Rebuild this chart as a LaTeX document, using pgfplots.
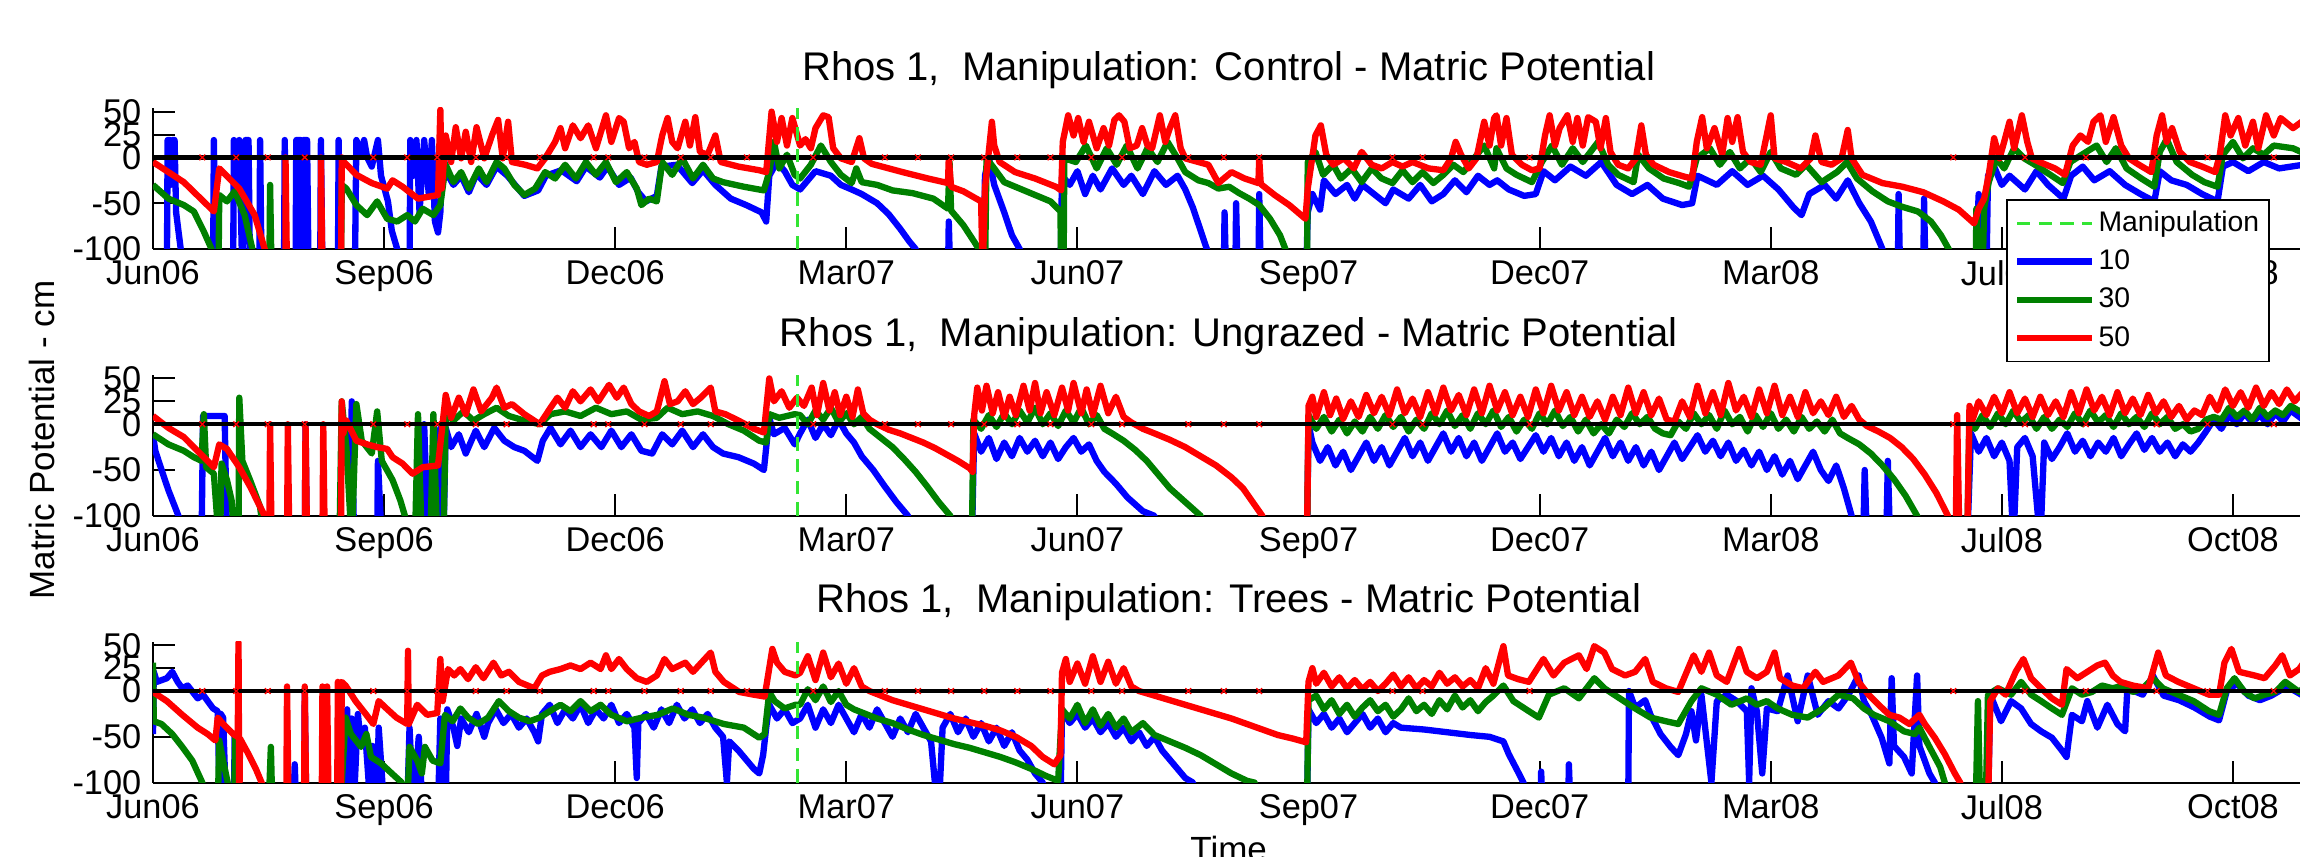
\documentclass[border=0pt]{standalone}
\usepackage{fontspec}
\setmainfont{Liberation Sans}
\usepackage{pgfplots}
\pgfplotsset{compat=1.18}
\definecolor{mblue}{rgb}{0,0,1}
\definecolor{mgreen}{rgb}{0,0.5,0}
\definecolor{mred}{rgb}{1,0,0}
\definecolor{mlime}{rgb}{0.2,0.9,0.2}
\pgfplotsset{
  panel/.style={
    scale only axis, width=645pt, height=42.3pt,
    xmin=0, xmax=27.91, ymin=-100, ymax=54,
    axis lines=left, axis line style={-, line width=0.6pt},
    every outer x axis line/.append style={-},
    every outer y axis line/.append style={-},
    tick align=inside, major tick length=6.6pt,
    tick style={black, line width=0.6pt},
    xtick={0,3,...,27},
    xticklabels={Jun06,Sep06,Dec06,Mar07,Jun07,Sep07,Dec07,Mar08,Jul08,Oct08},
    ytick={-100,-50,0,25,50},
    yticklabels={-100,-50,0,25,50},
    ticklabel style={font=\fontsize{10.3}{12}\selectfont},
    anchor=south west, clip=true,
  },
  d10/.style={mblue, line width=1.9pt, line join=round},
  d30/.style={mgreen, line width=1.9pt, line join=round},
  d50/.style={mred, line width=1.9pt, line join=round},
  zeroline/.style={black, line width=1.3pt},
  manip/.style={mlime, line width=0.9pt, dash pattern=on 4pt off 2.5pt},
  xmk/.style={only marks, mark=x, mark size=1.2pt, mred, mark options={line width=0.4pt}},
}
\newcommand{\zerostuff}{%
  \addplot[zeroline, forget plot] coordinates {(0,0) (27.91,0)};
  \addplot[xmk, forget plot] coordinates {(0.64,0) (1.08,0) (1.49,0) (1.97,0) (2.86,0) (3.30,0) (3.69,0) (4.19,0) (4.59,0) (5.02,0) (5.72,0) (5.91,0) (6.38,0) (6.85,0) (7.24,0) (7.71,0) (8.57,0) (9.50,0) (9.93,0) (10.36,0) (10.79,0) (11.22,0) (11.65,0) (12.18,0) (12.58,0) (13.44,0) (13.90,0) (14.36,0) (16.09,0) (16.48,0) (17.87,0) (23.37,0) (24.30,0) (25.09,0) (26.01,0) (26.67,0) (27.53,0)};
  \addplot[manip, forget plot] coordinates {(8.36,-100) (8.36,54)};
}
\begin{document}
\begin{tikzpicture}
%================ PANEL 1: Control
\begin{axis}[panel, at={(45.9pt,182.1pt)},
  legend cell align=left,
  legend image code/.code={\draw[#1] (0pt,0pt) -- (22.5pt,0pt);},
  legend style={at={(axis cs:24.06,-45.7)}, anchor=north west,
    font=\fontsize{8.5}{9}\selectfont, draw=black, line width=0.5pt, fill=white,
    inner xsep=2pt, inner ysep=2pt, row sep=1.6pt,
    nodes={inner sep=1pt, text height=6.3pt, text depth=1.6pt}},
  legend entries={Manipulation,10,30,50}]
\addlegendimage{manip}
\addplot[d10] coordinates {(0.10,-130) (0.18,-130) (0.19,19) (0.22,19) (0.23,-30) (0.25,19) (0.28,19) (0.30,-60) (0.36,-100) (0.40,-130)
(0.78,-130) (0.79,19) (0.81,-130) (1.04,-130) (1.05,19) (1.08,-40) (1.12,19) (1.16,-130) (1.20,19) (1.24,19) (1.26,-130)
(1.38,-130) (1.39,19) (1.41,-130) (1.70,-130) (1.71,19) (1.73,-130) (1.85,-130) (1.86,19) (1.92,19) (1.93,-130) (1.95,19) (2.0,19) (2.02,-130)
(2.17,-130) (2.18,19) (2.20,-130) (2.40,-130) (2.41,19) (2.43,-130) (2.62,-130) (2.64,19) (2.70,5) (2.74,19) (2.78,0) (2.84,-10) (2.92,19) (2.96,-20) (3.05,-48) (3.10,-80) (3.17,-100) (3.20,-130)
(3.33,-130) (3.34,19) (3.38,-20) (3.42,19) (3.46,-60) (3.52,19) (3.58,-40) (3.62,19) (3.66,-70) (3.70,-82) (3.73,-60) (3.76,10)
(3.80,-15) (3.9,-30) (4.0,-20) (4.1,-38) (4.2,-18) (4.33,-30) (4.46,-10) (4.6,-20) (4.82,-42) (5.0,-36) (5.1,-20) (5.3,-14) (5.5,-26) (5.62,-10) (5.8,-22) (5.9,-10) (6.05,-30) (6.2,-22) (6.3,-38) (6.4,-48) (6.54,-42) (6.6,-10) (6.8,-8) (7.0,-28) (7.14,-14) (7.3,-30) (7.5,-45) (7.7,-52) (7.9,-60) (7.96,-70) (8.0,-20) (8.1,-5) (8.2,-15) (8.3,-30)
(8.4,-35) (8.6,-15) (8.8,-20) (8.93,-30) (9.07,-35) (9.2,-40) (9.4,-50) (9.55,-62) (9.7,-78) (9.82,-92) (9.9,-100) (9.95,-130)
(10.32,-130) (10.33,-70) (10.35,-130) (10.78,-130) (10.80,-20) (10.85,0) (10.92,-30) (11.05,-60) (11.15,-85) (11.25,-100) (11.3,-130)
(11.78,-130) (11.80,-20) (11.9,-30) (12.0,-15) (12.1,-40) (12.2,-20) (12.3,-35) (12.45,-12) (12.6,-30) (12.7,-20) (12.85,-40) (13.0,-15) (13.15,-30) (13.3,-20) (13.4,-35) (13.5,-55) (13.6,-80) (13.68,-100) (13.7,-130)
(13.9,-130) (13.91,-60) (13.93,-130) (14.05,-130) (14.06,-50) (14.08,-130) (14.35,-130) (14.36,-40) (14.38,-130)
(14.97,-130) (14.99,-60) (15.05,-40) (15.15,-57) (15.2,-25) (15.35,-40) (15.5,-30) (15.6,-45) (15.7,-30) (15.85,-40) (16.0,-50) (16.1,-35) (16.3,-45) (16.45,-30) (16.6,-48) (16.75,-40) (16.9,-25) (17.05,-38) (17.2,-20) (17.35,-30)
(17.45,-25) (17.6,-35) (17.8,-42) (17.95,-40) (18.05,-15) (18.2,-25) (18.4,-10) (18.6,-20) (18.8,-5) (19.0,-30) (19.2,-40) (19.4,-30) (19.6,-45) (19.85,-52) (19.98,-50) (20.05,-20) (20.3,-30) (20.5,-15) (20.7,-30) (20.9,-20) (21.1,-35) (21.3,-55) (21.4,-63) (21.5,-40) (21.7,-30) (21.85,-45) (22.0,-25) (22.15,-50) (22.3,-70) (22.4,-90) (22.45,-100) (22.5,-130)
(22.65,-130) (22.66,-40) (22.68,-130) (22.98,-130) (22.99,-45) (23.01,-130)
(23.65,-130) (23.70,-40) (23.72,-130) (23.80,-130) (23.82,-20) (23.9,-10) (24.0,-30) (24.1,-20) (24.3,-35) (24.45,-15) (24.6,-30) (24.8,-45) (24.9,-20) (25.05,-10) (25.2,-25) (25.4,-15) (25.6,-30) (25.8,-40) (25.98,-48) (26.05,-15) (26.2,-25) (26.4,-30) (26.6,-40) (26.8,-48) (26.87,-10) (27.0,-5) (27.2,-15) (27.4,-5) (27.6,-12) (27.91,-8)};
\addplot[d30] coordinates {(0,-30) (0.2,-45) (0.40,-52) (0.53,-59) (0.66,-81) (0.76,-100) (0.78,-130) (0.85,-130) (0.86,-41) (0.96,-48) (1.06,-37) (1.19,-63) (1.29,-100) (1.32,-130) (1.51,-130) (1.52,-30) (1.54,-130) (2.44,-130) (2.45,-30) (2.51,-34) (2.64,-52) (2.78,-63) (2.91,-48) (3.04,-67) (3.17,-70) (3.30,-63) (3.40,-70) (3.50,-56) (3.64,-63) (3.73,-52) (3.80,-8) (3.90,-27) (4.0,-16) (4.10,-34) (4.23,-12) (4.33,-27) (4.46,-5) (4.56,-12) (4.69,-30) (4.82,-41) (4.96,-34) (5.09,-16) (5.22,-23) (5.35,-8) (5.49,-23) (5.62,-5) (5.75,-19) (5.88,-5) (6.01,-27) (6.15,-16) (6.28,-34) (6.34,-52) (6.44,-45) (6.54,-48) (6.61,-5) (6.74,-19) (6.87,-1) (7.01,-23) (7.14,-8) (7.27,-23) (7.40,-27) (7.67,-32) (7.93,-36) (8.0,-16) (8.06,17) (8.13,-12) (8.23,3) (8.33,-19) (8.40,-23) (8.54,-8) (8.67,13) (8.80,-5) (8.93,-19) (9.07,-28) (9.13,-12) (9.20,-27) (9.40,-30) (9.60,-36) (9.86,-39) (10.13,-45) (10.32,-56) (10.34,-5) (10.36,-58) (10.52,-74) (10.66,-92) (10.72,-100) (10.75,-130) (10.80,-130) (10.82,-1) (10.92,-12) (11.05,-27) (11.25,-34) (11.45,-41) (11.65,-48) (11.78,-59) (11.79,-130) (11.82,-130) (11.83,-1) (11.98,-5) (12.11,13) (12.25,-12) (12.38,10) (12.51,-8) (12.64,13) (12.78,-12) (12.91,10) (13.04,-5) (13.17,17) (13.30,-1) (13.40,-16) (13.57,-25) (13.70,-28) (13.83,-34) (13.97,-32) (14.10,-39) (14.23,-45) (14.36,-52) (14.50,-67) (14.63,-85) (14.70,-100) (14.73,-130) (14.98,-130) (14.99,-5) (15.09,6) (15.19,-19) (15.32,-8) (15.42,-23) (15.56,-12) (15.69,-27) (15.82,-12) (15.95,-23) (16.09,-28) (16.22,-14) (16.35,-27) (16.48,-16) (16.62,-28) (16.75,-19) (16.88,-8) (17.01,-16) (17.15,-1) (17.28,13) (17.41,-12) (17.44,10) (17.57,-12) (17.70,-19) (17.90,-27) (18.03,-5) (18.16,13) (18.29,-8) (18.43,10) (18.56,-5) (18.76,17) (18.89,-8) (19.02,-19) (19.22,-27) (19.28,3) (19.42,-12) (19.61,-23) (19.81,-28) (19.94,-32) (20.04,-1) (20.21,10) (20.34,-8) (20.47,6) (20.60,-12) (20.74,-1) (20.87,-16) (21.0,6) (21.13,-12) (21.33,-19) (21.46,-8) (21.66,-27) (21.86,-16) (21.99,-5) (22.12,-23) (22.32,-37) (22.52,-48) (22.71,-54) (22.91,-59) (23.08,-70) (23.21,-85) (23.31,-100) (23.34,-130) (23.66,-130) (23.67,-56) (23.69,-130) (23.75,-130) (23.77,-56) (23.83,-27) (23.93,-1) (24.03,-12) (24.16,10) (24.29,-1) (24.43,-8) (24.63,-19) (24.79,-28) (24.89,-5) (25.02,2) (25.23,13) (25.36,-5) (25.48,10) (25.62,-12) (25.81,-23) (25.98,-32) (26.05,6) (26.14,20) (26.27,-5) (26.47,-19) (26.63,-27) (26.80,-32) (26.87,3) (27.0,17) (27.13,-1) (27.26,10) (27.40,3) (27.53,13) (27.78,10) (27.91,5)};
\addplot[d50] coordinates {(0,-5) (0.40,-27) (0.79,-59) (0.86,-12) (1.12,-34) (1.32,-63) (1.45,-100) (1.50,-130) (1.72,-130) (1.72,0) (1.74,-130) (2.18,-130) (2.18,0) (2.20,-130) (2.44,-130) (2.45,0) (2.48,-5) (2.64,-19) (2.84,-28) (3.04,-34) (3.11,-25) (3.24,-32) (3.44,-45) (3.57,-43) (3.70,-41) (3.73,52) (3.75,-34) (3.80,24) (3.87,-5) (3.93,33) (4.0,-1) (4.06,28) (4.13,-5) (4.20,33) (4.30,-1) (4.40,24) (4.48,41) (4.54,-1) (4.61,39) (4.66,-5) (4.83,-8) (4.99,-12) (5.09,-1) (5.22,17) (5.29,32) (5.35,10) (5.45,35) (5.55,21) (5.65,35) (5.75,10) (5.88,46) (5.95,17) (6.05,43) (6.11,39) (6.18,10) (6.25,17) (6.31,-5) (6.41,-8) (6.54,-5) (6.61,24) (6.68,43) (6.74,17) (6.81,10) (6.91,39) (6.97,13) (7.04,44) (7.10,6) (7.20,3) (7.30,24) (7.37,-5) (7.60,-10) (7.87,-14) (7.96,-16) (8.03,50) (8.10,17) (8.16,43) (8.23,13) (8.30,43) (8.40,13) (8.47,20) (8.54,10) (8.60,32) (8.70,46) (8.77,44) (8.83,10) (8.93,-1) (9.07,-5) (9.17,21) (9.23,-1) (9.33,-7) (9.73,-16) (10.06,-23) (10.32,-28) (10.33,-1) (10.36,-32) (10.52,-37) (10.75,-48) (10.77,-130) (10.80,-34) (10.89,39) (10.92,13) (10.99,-5) (11.19,-16) (11.45,-23) (11.72,-32) (11.79,-36) (11.81,17) (11.88,46) (11.95,24) (12.01,43) (12.08,17) (12.15,39) (12.25,10) (12.34,32) (12.41,13) (12.48,41) (12.54,46) (12.61,39) (12.68,10) (12.77,13) (12.84,32) (12.91,13) (12.97,10) (13.07,46) (13.14,17) (13.20,32) (13.27,46) (13.34,10) (13.40,-1) (13.57,-5) (13.70,-8) (13.83,-28) (14.0,-16) (14.17,-23) (14.35,-28) (14.36,-1) (14.38,-29) (14.56,-41) (14.75,-52) (14.96,-67) (14.99,-34) (15.09,24) (15.16,35) (15.23,3) (15.32,-8) (15.46,-1) (15.59,-12) (15.69,6) (15.82,-8) (15.95,-12) (16.09,-5) (16.22,-10) (16.35,-5) (16.56,-12) (16.75,-14) (16.85,-1) (16.91,17) (16.98,3) (17.08,-12) (17.18,-1) (17.28,39) (17.35,13) (17.41,43) (17.44,46) (17.50,13) (17.57,43) (17.64,3) (17.77,-8) (17.90,-14) (18.0,-12) (18.07,24) (18.13,46) (18.20,13) (18.26,32) (18.36,46) (18.43,17) (18.49,43) (18.56,13) (18.63,44) (18.73,39) (18.79,10) (18.86,43) (18.92,6) (19.02,-8) (19.15,-12) (19.25,-1) (19.32,35) (19.38,3) (19.48,-8) (19.68,-16) (19.88,-21) (19.98,-23) (20.04,17) (20.11,44) (20.17,10) (20.27,32) (20.37,3) (20.44,43) (20.50,17) (20.57,44) (20.64,6) (20.74,-5) (20.87,-8) (21.0,46) (21.05,-1) (21.20,-5) (21.39,-12) (21.52,-1) (21.58,24) (21.66,-5) (21.79,-8) (21.92,-1) (22.0,30) (22.05,-1) (22.19,-19) (22.45,-28) (22.71,-32) (22.98,-38) (23.24,-48) (23.44,-57) (23.64,-72) (23.70,-56) (23.77,-45) (23.83,-19) (23.90,21) (23.97,-1) (24.03,17) (24.10,39) (24.16,10) (24.26,46) (24.33,17) (24.39,-1) (24.49,-5) (24.69,-12) (24.82,-19) (24.92,13) (25.02,24) (25.12,17) (25.19,39) (25.28,46) (25.35,17) (25.45,44) (25.55,13) (25.65,-1) (25.78,-8) (25.94,-16) (26.01,24) (26.08,46) (26.14,17) (26.21,32) (26.31,6) (26.44,-5) (26.60,-10) (26.77,-16) (26.83,3) (26.90,46) (26.97,24) (27.07,43) (27.16,13) (27.26,39) (27.33,10) (27.43,46) (27.53,24) (27.62,43) (27.78,32) (27.91,40)};
\zerostuff
\end{axis}
%================ PANEL 2: Ungrazed
\begin{axis}[panel, at={(45.9pt,102.06pt)}]
\addplot[d10] coordinates {(0,-11) (0.03,-29) (0.10,-47) (0.2,-72) (0.33,-100) (0.36,-130) (0.63,-130) (0.65,9) (0.93,9) (0.96,-130) (1.97,-130) (1.98,0) (2.0,-130) (2.56,-130) (2.58,25) (2.61,-130) (2.91,-130) (2.92,-40) (2.97,-130) (3.50,-130) (3.52,0) (3.57,-130) (3.72,-130) (3.73,-4) (3.77,-130) (3.80,-4) (3.87,-25) (3.97,-11) (4.06,-32) (4.19,-7) (4.30,-25) (4.43,-4) (4.56,-18) (4.69,-25) (4.82,-29) (4.99,-40) (5.06,-18) (5.16,-4) (5.29,-22) (5.42,-7) (5.55,-25) (5.68,-11) (5.82,-25) (5.95,-7) (6.08,-25) (6.21,-11) (6.34,-29) (6.48,-32) (6.61,-11) (6.74,-22) (6.87,-7) (7.01,-25) (7.14,-11) (7.27,-25) (7.40,-32) (7.60,-36) (7.80,-43) (7.93,-50) (8.0,7) (8.06,-11) (8.20,-4) (8.33,-22)
(8.4,-10) (8.5,5) (8.6,-15) (8.7,0) (8.8,-12) (8.9,5) (9.0,-10) (9.1,-20) (9.2,-35) (9.35,-50) (9.5,-68) (9.65,-85) (9.8,-100) (9.85,-130) (10.63,-130) (10.66,-10) (10.75,-30) (10.85,-15) (10.95,-38) (11.05,-20) (11.15,-35) (11.25,-15) (11.35,-30) (11.45,-18) (11.55,-35) (11.65,-20) (11.75,-38) (11.85,-25) (11.95,-15) (12.05,-30) (12.15,-22) (12.25,-40) (12.35,-52) (12.5,-65) (12.65,-80) (12.85,-95) (13.0,-100) (13.05,-130) (14.98,-130) (15.0,0) (15.05,-20) (15.15,-40) (15.25,-25) (15.35,-45) (15.45,-30) (15.55,-50) (15.65,-35) (15.75,-20) (15.85,-40) (15.95,-25) (16.05,-45) (16.15,-30) (16.25,-15) (16.35,-35) (16.45,-20) (16.55,-40) (16.65,-25) (16.75,-10) (16.85,-30) (16.95,-15) (17.05,-35) (17.15,-20) (17.25,-40) (17.35,-25) (17.45,-10) (17.55,-30) (17.65,-20) (17.75,-38) (17.85,-25) (17.95,-12) (18.05,-30) (18.15,-15) (18.25,-35) (18.35,-20) (18.45,-40) (18.55,-25) (18.65,-45) (18.75,-30) (18.85,-15) (18.95,-35) (19.05,-20) (19.15,-40) (19.25,-25) (19.35,-45) (19.45,-30) (19.55,-50) (19.65,-35) (19.75,-20) (19.85,-38) (19.95,-25) (20.05,-12) (20.15,-30) (20.25,-18) (20.35,-35) (20.45,-20) (20.55,-40) (20.65,-28) (20.75,-45) (20.85,-30) (20.95,-50) (21.05,-35) (21.15,-55) (21.25,-40) (21.35,-60) (21.45,-45) (21.55,-30) (21.65,-50) (21.75,-62) (21.85,-45) (21.95,-70) (22.05,-100) (22.1,-130) (22.2,-130) (22.22,-50) (22.25,-130) (22.5,-130) (22.52,-40) (22.55,-130) (23.55,-130) (23.6,-10) (23.7,-30) (23.8,-15) (23.9,-35) (24.0,-20) (24.1,-40) (24.15,-130) (24.2,-25) (24.3,-15) (24.4,-35) (24.5,-130) (24.55,-20) (24.65,-38) (24.75,-25) (24.85,-10) (24.95,-30) (25.05,-18) (25.15,-35) (25.25,-20) (25.35,-30) (25.45,-15) (25.55,-35) (25.65,-22) (25.75,-10) (25.85,-28) (25.95,-15) (26.05,-30) (26.15,-20) (26.25,-35) (26.35,-22) (26.45,-30) (26.55,-20) (26.65,-8) (26.75,5) (26.85,-5) (26.95,10) (27.05,0) (27.15,12) (27.25,2) (27.35,10) (27.45,0) (27.55,12) (27.65,3) (27.75,15) (27.91,5)};
\addplot[d30] coordinates {(0,-11) (0.2,-22) (0.40,-29) (0.53,-36) (0.63,-40) (0.66,11) (0.69,-47) (0.79,-54) (0.83,-100) (0.85,-130) (0.87,-130) (0.89,-43) (0.96,-61) (1.02,-83) (1.06,-130) (1.11,-130) (1.12,29) (1.16,-40) (1.26,-61) (1.39,-90) (1.45,-130) (2.42,-130) (2.45,25) (2.51,-25) (2.58,-130) (2.64,22) (2.71,-18) (2.84,-32) (2.91,14) (2.97,-40) (3.11,-61) (3.21,-83) (3.27,-100) (3.30,-130) (3.40,-130) (3.44,11) (3.49,-130) (3.60,-130) (3.64,11) (3.69,-130) (3.77,-130) (3.80,11) (3.90,4) (4.03,14) (4.16,4) (4.30,11) (4.46,18) (4.62,9) (4.82,4) (5.02,0) (5.16,11) (5.35,14) (5.55,9) (5.75,18) (5.95,11) (6.15,14) (6.34,5) (6.54,7) (6.68,18) (6.87,11) (7.07,14) (7.27,9) (7.47,0) (7.67,-7) (7.87,-18) (7.96,-20) (8.0,11) (8.13,7) (8.33,11)
(8.4,10) (8.5,0) (8.6,15) (8.7,5) (8.8,18) (8.9,2) (9.0,12) (9.1,0) (9.2,8) (9.3,-5) (9.45,-15) (9.6,-25) (9.75,-38) (9.9,-52) (10.05,-68) (10.2,-85) (10.35,-100) (10.4,-130) (10.63,-130) (10.65,5) (10.75,-5) (10.85,10) (10.95,-3) (11.05,12) (11.15,0) (11.25,15) (11.35,2) (11.45,18) (11.55,0) (11.65,12) (11.75,-2) (11.85,15) (11.95,2) (12.05,18) (12.15,0) (12.25,10) (12.35,-5) (12.45,-10) (12.6,-18) (12.75,-28) (12.9,-40) (13.05,-55) (13.2,-70) (13.4,-85) (13.6,-100) (13.65,-130) (14.98,-130) (15.0,10) (15.1,-5) (15.2,8) (15.3,-8) (15.4,5) (15.5,-10) (15.6,3) (15.7,-8) (15.8,8) (15.9,-5) (16.0,10) (16.1,-3) (16.2,8) (16.3,-8) (16.4,5) (16.5,-5) (16.6,12) (16.7,0) (16.8,15) (16.9,-2) (17.0,10) (17.1,-5) (17.2,12) (17.3,0) (17.4,15) (17.5,-3) (17.6,8) (17.7,-8) (17.8,5) (17.9,-5) (18.0,12) (18.1,0) (18.2,15) (18.3,-2) (18.4,8) (18.5,-8) (18.6,5) (18.7,-10) (18.8,0) (18.9,-10) (19.0,5) (19.1,-3) (19.2,12) (19.3,0) (19.4,8) (19.5,-5) (19.6,-10) (19.7,-12) (19.8,3) (19.9,-5) (20.0,12) (20.1,0) (20.2,10) (20.3,-5) (20.4,15) (20.5,0) (20.6,8) (20.7,-8) (20.8,10) (20.9,-3) (21.0,12) (21.1,-5) (21.2,5) (21.3,-8) (21.4,8) (21.5,-5) (21.6,3) (21.7,-8) (21.8,5) (21.9,-10) (22.0,-15) (22.15,-22) (22.3,-32) (22.45,-45) (22.6,-60) (22.75,-78) (22.9,-100) (22.95,-130) (23.55,-130) (23.58,5) (23.65,-5) (23.75,10) (23.85,-3) (23.95,12) (24.05,0) (24.15,15) (24.25,2) (24.35,10) (24.45,-5) (24.55,8) (24.65,-5) (24.75,5) (24.85,-3) (24.95,12) (25.05,0) (25.15,15) (25.25,2) (25.35,10) (25.45,-3) (25.55,12) (25.65,0) (25.75,8) (25.85,-3) (25.95,12) (26.05,0) (26.15,8) (26.25,-5) (26.35,0) (26.45,-8) (26.55,-5) (26.65,5) (26.75,8) (26.85,5) (26.95,18) (27.05,8) (27.15,15) (27.25,5) (27.35,18) (27.45,8) (27.55,15) (27.65,10) (27.75,20) (27.91,12)};
\addplot[d50] coordinates {(0,9) (0.2,-4) (0.40,-14) (0.66,-36) (0.79,-47) (0.86,-22) (0.96,-27) (1.12,-47) (1.26,-68) (1.39,-90) (1.45,-100) (1.49,-130) (1.51,-130) (1.52,0) (1.54,-130) (1.74,-130) (1.75,0) (1.77,-130) (1.97,-130) (1.98,0) (2.0,-130) (2.20,-130) (2.21,0) (2.23,-130) (2.44,-130) (2.45,25) (2.47,-10) (2.51,4) (2.64,-18) (2.78,-22) (2.91,-25) (3.04,-27) (3.11,-36) (3.24,-43) (3.37,-54) (3.50,-47) (3.70,-45) (3.80,32) (3.87,7) (3.97,29) (4.06,11) (4.16,38) (4.26,14) (4.40,29) (4.46,40) (4.56,18) (4.66,22) (4.82,11) (5.02,0) (5.16,18) (5.25,29) (5.35,18) (5.45,36) (5.55,25) (5.68,38) (5.78,25) (5.92,43) (6.02,29) (6.11,40) (6.21,22) (6.31,14) (6.44,9) (6.54,14) (6.64,47) (6.71,22) (6.81,25) (6.91,36) (7.01,22) (7.11,29) (7.24,40) (7.30,14) (7.43,11) (7.60,4) (7.80,-5) (7.93,-9) (8.0,50) (8.06,25) (8.16,36) (8.26,18) (8.36,29)
(8.45,20) (8.55,40) (8.62,10) (8.7,45) (8.78,15) (8.85,35) (8.92,10) (9.0,30) (9.08,8) (9.15,38) (9.22,12) (9.3,5) (9.4,0) (9.55,-6) (9.7,-10) (9.85,-15) (10.0,-20) (10.15,-26) (10.3,-33) (10.45,-40) (10.6,-48) (10.64,-52) (10.66,10) (10.7,40) (10.76,15) (10.82,42) (10.9,12) (10.97,35) (11.05,8) (11.12,30) (11.2,10) (11.3,42) (11.38,15) (11.45,45) (11.52,12) (11.6,35) (11.7,10) (11.8,40) (11.88,15) (11.95,45) (12.05,12) (12.12,38) (12.2,10) (12.3,42) (12.4,12) (12.5,30) (12.6,8) (12.7,2) (12.85,-5) (13.0,-10) (13.2,-17) (13.4,-25) (13.6,-35) (13.8,-45) (14.0,-58) (14.15,-70) (14.3,-88) (14.4,-100) (14.45,-130) (14.98,-130) (15.0,20) (15.05,30) (15.1,8) (15.2,35) (15.28,10) (15.36,28) (15.45,6) (15.55,25) (15.65,8) (15.75,32) (15.85,12) (15.95,30) (16.05,10) (16.15,38) (16.25,12) (16.35,28) (16.45,8) (16.55,35) (16.65,12) (16.75,40) (16.85,15) (16.95,32) (17.05,10) (17.15,38) (17.25,12) (17.35,42) (17.45,15) (17.55,35) (17.65,10) (17.75,30) (17.85,8) (17.95,38) (18.05,12) (18.15,42) (18.25,15) (18.35,35) (18.45,10) (18.55,30) (18.65,8) (18.75,25) (18.85,5) (18.95,30) (19.05,10) (19.15,40) (19.25,12) (19.35,35) (19.45,10) (19.55,28) (19.65,5) (19.75,3) (19.85,25) (19.95,8) (20.05,42) (20.15,12) (20.25,35) (20.35,10) (20.45,45) (20.55,15) (20.65,30) (20.75,8) (20.85,38) (20.95,12) (21.05,42) (21.15,10) (21.25,30) (21.35,8) (21.45,35) (21.55,12) (21.65,25) (21.75,10) (21.85,30) (21.95,8) (22.05,20) (22.15,5) (22.25,-2) (22.4,-8) (22.55,-15) (22.7,-25) (22.85,-38) (23.0,-55) (23.15,-75) (23.3,-100) (23.35,-130) (23.4,-130) (23.42,10) (23.45,-130) (23.55,-130) (23.58,20) (23.62,5) (23.7,25) (23.8,10) (23.9,30) (24.0,12) (24.1,35) (24.2,12) (24.3,28) (24.4,8) (24.5,30) (24.6,10) (24.7,25) (24.8,8) (24.9,35) (25.0,12) (25.1,38) (25.2,15) (25.3,30) (25.4,10) (25.5,35) (25.6,12) (25.7,28) (25.8,10) (25.9,32) (26.0,12) (26.1,25) (26.2,8) (26.3,20) (26.4,5) (26.5,15) (26.6,10) (26.7,30) (26.8,15) (26.9,38) (27.0,20) (27.1,35) (27.2,18) (27.3,40) (27.4,20) (27.5,35) (27.6,22) (27.7,38) (27.8,25) (27.91,35)};
\zerostuff
\end{axis}
%================ PANEL 3: Trees
\begin{axis}[panel, at={(45.9pt,22.02pt)}]
\addplot[d10] coordinates {(0,-47) (0.01,21) (0.05,10) (0.18,14) (0.25,21) (0.32,10) (0.38,3) (0.45,6) (0.58,-8) (0.65,-4) (0.71,-11) (0.78,-19) (0.84,-22) (0.86,-100) (0.88,-25) (0.91,-29) (0.95,-130) (1.05,-130) (1.06,-50) (1.08,-130) (1.82,-130) (1.84,-80) (1.86,-130) (1.96,-130) (1.97,0) (1.99,-130) (2.5,-130) (2.52,-20) (2.55,-130) (2.58,-30) (2.62,-100) (2.66,-25) (2.70,-60) (2.75,-40) (2.80,-100) (2.85,-60) (2.90,-130) (2.93,-40) (2.97,-90) (3.00,-130) (3.3,-130) (3.33,-40) (3.38,-130) (3.45,-50) (3.50,-130) (3.70,-130) (3.73,-30) (3.76,-130) (3.8,-130) (3.82,-20) (3.9,-40) (3.95,-60) (4.0,-30) (4.1,-45) (4.2,-25) (4.3,-50) (4.35,-35) (4.45,-20) (4.55,-35) (4.65,-25) (4.75,-40) (4.85,-30) (4.95,-45) (5.0,-55) (5.05,-25) (5.15,-15) (5.25,-35) (5.35,-20) (5.45,-30) (5.55,-15) (5.65,-35) (5.75,-20) (5.85,-30) (5.95,-15) (6.05,-35) (6.15,-25) (6.25,-40) (6.28,-95) (6.3,-35) (6.4,-25) (6.5,-40) (6.6,-20) (6.7,-35) (6.8,-15) (6.9,-30) (7.0,-20) (7.1,-35) (7.2,-25) (7.3,-40) (7.4,-50) (7.45,-100) (7.48,-55) (7.6,-65) (7.7,-75) (7.8,-85) (7.87,-90) (7.92,-70) (7.96,-40) (8.0,-15) (8.1,-30) (8.2,-20) (8.3,-35)
(8.4,-30) (8.5,-15) (8.6,-40) (8.7,-20) (8.8,-35) (8.9,-15) (9.0,-30) (9.1,-45) (9.2,-25) (9.3,-40) (9.4,-20) (9.5,-35) (9.6,-50) (9.7,-30) (9.8,-45) (9.9,-25) (10.0,-40) (10.1,-55) (10.15,-100) (10.2,-130) (10.25,-40) (10.35,-25) (10.45,-45) (10.55,-30) (10.65,-50) (10.75,-35) (10.85,-55) (10.95,-40) (11.05,-60) (11.15,-45) (11.25,-65) (11.35,-75) (11.45,-90) (11.55,-100) (11.6,-130) (11.78,-130) (11.8,-20) (11.9,-35) (12.0,-25) (12.1,-40) (12.2,-30) (12.3,-45) (12.4,-35) (12.5,-50) (12.6,-40) (12.7,-55) (12.8,-45) (12.9,-60) (13.0,-50) (13.1,-65) (13.2,-75) (13.3,-85) (13.4,-95) (13.5,-100) (13.55,-130) (14.98,-130) (15.0,-20) (15.1,-35) (15.2,-25) (15.3,-40) (15.4,-30) (15.5,-45) (15.6,-35) (15.7,-25) (15.8,-40) (15.9,-30) (16.0,-45) (16.1,-35) (16.2,-40) (16.5,-42) (16.8,-45) (17.1,-48) (17.35,-50) (17.53,-55) (17.6,-69) (17.73,-90) (17.79,-100) (17.83,-130) (18.01,-130) (18.02,-88) (18.04,-130) (18.37,-130) (18.38,-80) (18.40,-130) (19.15,-130) (19.16,0) (19.24,-18) (19.37,-10) (19.44,-26) (19.57,-47) (19.70,-61) (19.80,-70) (19.90,-47) (19.97,-22) (20.03,-54) (20.10,-4) (20.23,-100) (20.30,-11) (20.43,-4) (20.56,-11) (20.69,-22) (20.72,-100) (20.75,3) (20.82,-22) (20.89,-90) (20.95,-19) (21.09,-22) (21.22,17) (21.35,-33) (21.48,17) (21.61,-26) (21.75,-11) (21.88,-19) (22.01,-4) (22.14,17) (22.21,-11) (22.31,-26) (22.44,-51) (22.54,-79) (22.57,14) (22.60,-60) (22.73,-72) (22.83,-90) (22.90,17) (22.93,-60) (23.06,-90) (23.13,-100) (23.16,-130) (23.82,-130) (23.85,-4) (23.99,-33) (24.12,-11) (24.25,-19) (24.38,-36) (24.51,-44) (24.65,-51) (24.78,-65) (24.84,-72) (24.91,-26) (25.04,-33) (25.11,-11) (25.24,-40) (25.37,-15) (25.50,-36) (25.60,-44) (25.63,3) (25.83,-4) (25.96,17) (26.1,-5) (26.3,-10) (26.5,-18) (26.7,-28) (26.82,-32) (26.92,0) (27.05,8) (27.2,-5) (27.35,-10) (27.5,-5) (27.7,5) (27.91,-5)};
\addplot[d30] coordinates {(0,31) (0.01,-33) (0.11,-36) (0.25,-47) (0.38,-61) (0.51,-76) (0.64,-100) (0.68,-130) (0.84,-130) (0.86,-54) (0.91,-76) (0.97,-100) (1.01,-130) (1.05,-130) (1.07,-47) (1.11,-130) (1.50,-130) (1.53,-61) (1.55,-130) (2.43,-130) (2.50,-29) (2.57,-47) (2.70,-61) (2.77,-47) (2.83,-72) (2.96,-79) (3.10,-90) (3.23,-100) (3.26,-130) (3.30,-130) (3.33,-61) (3.43,-76) (3.49,-90) (3.53,-61) (3.63,-76) (3.73,-79) (3.79,-26) (3.89,-33) (3.99,-19) (4.09,-29) (4.22,-36) (4.35,-29) (4.49,-11) (4.62,-22) (4.75,-29) (4.89,-33) (5.02,-29) (5.15,-22) (5.29,-15) (5.42,-22) (5.55,-11) (5.68,-22) (5.81,-15) (5.95,-26) (6.15,-33) (6.35,-29) (6.55,-26) (6.75,-19) (6.95,-26) (7.14,-29) (7.41,-36) (7.67,-40) (7.87,-51) (7.94,-47) (8.0,-1) (8.07,-11) (8.20,-19) (8.34,-15)
(8.4,-15) (8.5,2) (8.6,-10) (8.7,5) (8.8,-12) (8.9,0) (9.0,-15) (9.1,-20) (9.25,-25) (9.4,-30) (9.6,-35) (9.8,-42) (10.0,-48) (10.2,-53) (10.4,-58) (10.6,-62) (10.8,-67) (11.0,-72) (11.2,-78) (11.4,-85) (11.6,-93) (11.75,-98) (11.8,-20) (11.9,-30) (12.0,-15) (12.1,-35) (12.2,-20) (12.3,-38) (12.4,-25) (12.5,-40) (12.6,-30) (12.7,-45) (12.85,-35) (13.0,-48) (13.2,-55) (13.4,-62) (13.6,-70) (13.8,-80) (14.0,-90) (14.2,-98) (14.3,-100) (14.35,-130) (14.98,-130) (15.0,-10) (15.1,-5) (15.2,-20) (15.3,-10) (15.4,-25) (15.5,-15) (15.6,-28) (15.7,-18) (15.8,-10) (15.9,-22) (16.0,-15) (16.1,-28) (16.2,-20) (16.3,-8) (16.4,-22) (16.5,-15) (16.6,-25) (16.7,-10) (16.8,-20) (16.9,-5) (17.0,-18) (17.1,-10) (17.2,-22) (17.3,-12) (17.4,-5)
(17.53,6) (17.66,-11) (17.86,-22) (17.99,-29) (18.12,-4) (18.32,3) (18.51,-8) (18.71,14) (18.84,3) (19.04,-8) (19.24,-19) (19.44,-29) (19.64,-33) (19.80,-36) (19.97,-11) (20.10,3) (20.30,-4) (20.49,-15) (20.69,-8) (20.82,-15) (20.95,-11) (21.09,-19) (21.28,-26) (21.48,-29) (21.68,-19) (21.88,-4) (22.07,-8) (22.21,-19) (22.34,-26) (22.54,-33) (22.73,-44) (22.87,-47) (22.93,-40) (23.06,-61) (23.20,-83) (23.26,-100) (23.29,-130) (23.66,-130) (23.69,-11) (23.72,-130) (23.79,-130) (23.82,-4) (23.95,3) (24.12,-4) (24.25,10) (24.38,-4) (24.51,-11) (24.65,-19) (24.78,-26) (24.91,3) (25.04,-4) (25.17,-1) (25.30,6) (25.44,3) (25.57,6) (25.70,-1) (25.83,3) (25.96,14) (26.09,3) (26.29,-4) (26.49,-11) (26.69,-22) (26.82,-26) (26.92,3) (27.02,14) (27.15,-1) (27.28,-8) (27.41,-4) (27.55,-1) (27.68,10) (27.86,-1) (27.91,3)};
\addplot[d50] coordinates {(0,-1) (0.18,-11) (0.38,-26) (0.58,-40) (0.71,-47) (0.81,-54) (0.84,-29) (0.91,-36) (1.04,-47) (1.10,-50) (1.11,53) (1.12,-130) (1.13,-52) (1.24,-69) (1.34,-86) (1.41,-100) (1.44,-130) (1.73,-130) (1.74,5) (1.76,-130) (1.96,-130) (1.97,5) (1.99,-130) (2.19,-130) (2.20,5) (2.22,-130) (2.25,-130) (2.26,5) (2.28,-130) (2.39,-130) (2.40,10) (2.42,-130) (2.44,-130) (2.45,10) (2.50,6) (2.63,-11) (2.77,-26) (2.86,-36) (2.93,-11) (3.03,-19) (3.16,-29) (3.30,-36) (3.31,44) (3.32,-36) (3.43,-15) (3.56,-26) (3.69,-24) (3.73,35) (3.76,-11) (3.83,24) (3.91,17) (3.99,24) (4.09,13) (4.19,26) (4.29,14) (4.42,31) (4.52,17) (4.62,21) (4.75,10) (4.95,3) (5.05,17) (5.15,21) (5.29,24) (5.42,28) (5.55,24) (5.68,31) (5.81,24) (5.88,39) (5.95,24) (6.05,35) (6.15,24) (6.28,14) (6.41,10) (6.54,17) (6.64,35) (6.74,24) (6.91,31) (7.01,21) (7.24,42) (7.30,21) (7.41,10) (7.61,-1) (7.80,-4) (7.94,-6) (8.04,46) (8.10,31) (8.20,21) (8.34,17)
(8.4,20) (8.5,38) (8.6,12) (8.7,42) (8.8,15) (8.9,30) (9.0,8) (9.1,25) (9.2,5) (9.3,0) (9.45,-5) (9.6,-10) (9.8,-15) (10.0,-20) (10.2,-25) (10.4,-30) (10.6,-34) (10.8,-38) (11.0,-43) (11.2,-50) (11.4,-60) (11.55,-72) (11.7,-80) (11.78,-70) (11.8,20) (11.85,35) (11.9,10) (12.0,30) (12.1,8) (12.2,38) (12.3,10) (12.4,32) (12.5,8) (12.6,25) (12.7,5) (12.8,0) (13.0,-5) (13.2,-10) (13.4,-15) (13.6,-20) (13.8,-25) (14.0,-30) (14.2,-36) (14.4,-42) (14.6,-48) (14.8,-52) (14.97,-56) (15.0,10) (15.05,25) (15.1,8) (15.2,20) (15.3,5) (15.4,15) (15.5,3) (15.6,12) (15.7,2) (15.8,10) (15.9,0) (16.0,8) (16.1,18) (16.2,5) (16.3,15) (16.4,3) (16.5,12) (16.6,5) (16.7,20) (16.8,8) (16.9,15) (17.0,5) (17.1,12) (17.2,3) (17.3,25) (17.4,8) (17.5,40)
(17.53,49) (17.59,17) (17.72,13) (17.86,10) (18.05,35) (18.18,17) (18.32,31) (18.51,39) (18.61,24) (18.71,49) (18.84,42) (18.94,24) (19.11,17) (19.24,21) (19.37,35) (19.47,10) (19.64,3) (19.80,-1) (20.0,39) (20.10,21) (20.20,42) (20.30,17) (20.43,10) (20.59,46) (20.69,21) (20.82,14) (20.95,21) (21.05,42) (21.12,14) (21.28,6) (21.42,3) (21.58,21) (21.68,10) (21.88,17) (22.04,31) (22.14,10) (22.27,-4) (22.40,-15) (22.54,-26) (22.67,-29) (22.80,-36) (22.93,-26) (23.0,-36) (23.13,-51) (23.26,-69) (23.39,-90) (23.46,-100) (23.49,-130) (23.82,-130) (23.85,-11) (23.95,3) (24.05,-4) (24.18,21) (24.28,35) (24.38,14) (24.51,3) (24.65,-8) (24.78,-15) (24.84,24) (24.98,14) (25.11,21) (25.24,28) (25.34,31) (25.44,17) (25.54,10) (25.70,6) (25.90,3) (26.03,42) (26.13,17) (26.29,10) (26.49,3) (26.69,-4) (26.82,-4) (26.89,31) (26.98,46) (27.08,21) (27.28,17) (27.41,14) (27.55,28) (27.64,39) (27.74,17) (27.86,24) (27.91,30)};
\zerostuff
\end{axis}
%================ Texts
\node[anchor=base, font=\fontsize{12}{14}\selectfont] at (368.6pt,232.7pt) {Rhos 1,\ \ Manipulation: Control - Matric Potential};
\node[anchor=base, font=\fontsize{12}{14}\selectfont] at (368.6pt,152.7pt) {Rhos 1,\ \ Manipulation: Ungrazed - Matric Potential};
\node[anchor=base, font=\fontsize{12}{14}\selectfont] at (368.6pt,72.9pt) {Rhos 1,\ \ Manipulation: Trees - Matric Potential};
\node[rotate=90, font=\fontsize{10.5}{12}\selectfont] at (12.6pt,124.8pt) {Matric Potential - cm};
\node[anchor=base, font=\fontsize{10.5}{12}\selectfont] at (368.6pt,-1.8pt) {Time};
\pgfresetboundingbox
\path (0pt,0pt) rectangle (690pt,256.8pt);
\end{tikzpicture}
\end{document}
